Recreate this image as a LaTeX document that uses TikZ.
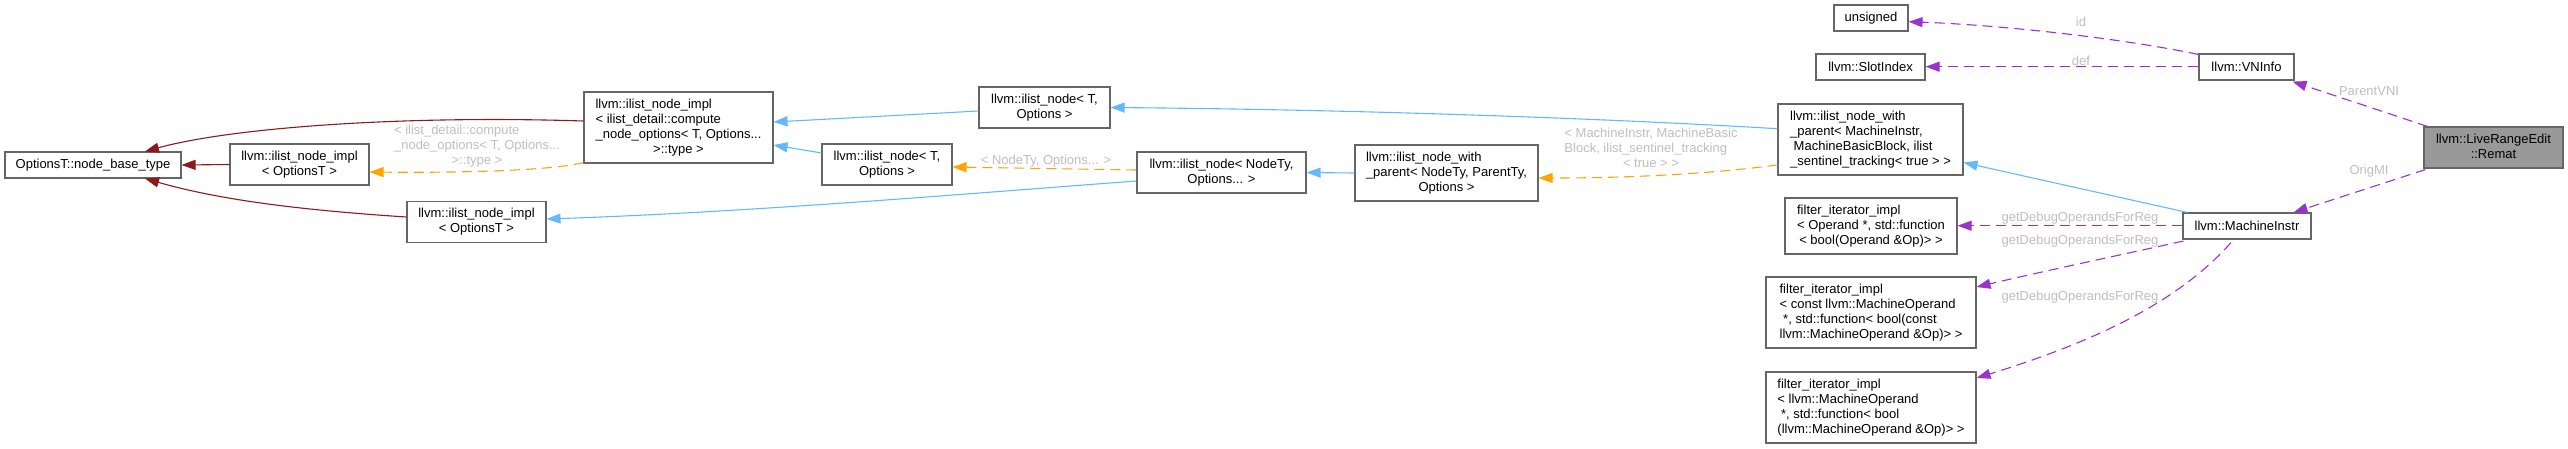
\documentclass[tikz,border=0pt]{standalone}
\usepackage{fontspec}
\setmainfont{Liberation Sans}
\usetikzlibrary{arrows.meta,positioning}
\definecolor{inhblue}{HTML}{63B8FF}
\definecolor{privred}{HTML}{8B1A1A}
\definecolor{tmplorange}{HTML}{FFA500}
\definecolor{usepurple}{HTML}{9A32CD}
\definecolor{lblgrey}{HTML}{BEBEBE}
\definecolor{boxgrey}{HTML}{666666}
\definecolor{focusgrey}{HTML}{999999}
\newcommand{\gvlines}[2]{\begin{tabular}{@{}l@{}}#1\\\multicolumn{1}{@{}c@{}}{#2}\end{tabular}}
\tikzset{
  cls/.style={draw=boxgrey, line width=1.1pt, fill=white, inner sep=0pt, font=\fontsize{13}{15}\selectfont},
  focus/.style={cls, fill=focusgrey},
  inherit/.style={-{Triangle[length=14pt,width=10pt]}, inhblue, line width=1.1pt},
  privinh/.style={inherit, privred},
  tmpl/.style={inherit, tmplorange, dash pattern=on 10pt off 6pt},
  usage/.style={inherit, usepurple, dash pattern=on 10pt off 6pt},
  elabel/.style={text=lblgrey, inner sep=0pt, font=\fontsize{13}{15}\selectfont}
}

\begin{document}
\begin{tikzpicture}[x=1pt, y=-1pt]
  \useasboundingbox (0,0) rectangle (2568,448);
  % classes
  \node[cls, minimum width=176pt, minimum height=26pt] (nbase) at (93,165) {OptionsT::node\_base\_type};
  \node[cls, minimum width=139pt, minimum height=41pt] (implA) at (299.5,164.5) {\gvlines{llvm::ilist\_node\_impl}{< OptionsT >}};
  \node[cls, minimum width=139pt, minimum height=41pt] (implB) at (476.5,222) {\gvlines{llvm::ilist\_node\_impl}{< OptionsT >}};
  \node[cls, minimum width=189pt, minimum height=71pt] (implC) at (678.5,127.5) {\gvlines{llvm::ilist\_node\_impl\\< ilist\_detail::compute\\\_node\_options< T, Options...}{>::type >}};
  \node[cls, minimum width=131pt, minimum height=41pt] (nodeA) at (1044.5,107.5) {\gvlines{llvm::ilist\_node< T,}{Options >}};
  \node[cls, minimum width=130pt, minimum height=41pt] (nodeB) at (887,164.5) {\gvlines{llvm::ilist\_node< T,}{Options >}};
  \node[cls, minimum width=169pt, minimum height=41pt] (nodeC) at (1221.5,172.5) {\gvlines{llvm::ilist\_node< NodeTy,}{Options... >}};
  \node[cls, minimum width=183pt, minimum height=56pt] (withA) at (1446.5,173) {\gvlines{llvm::ilist\_node\_with\\\_parent< NodeTy, ParentTy,}{Options >}};
  \node[cls, minimum width=185pt, minimum height=71pt] (withB) at (1870.5,139.5) {\gvlines{llvm::ilist\_node\_with\\\_parent< MachineInstr,\\\ MachineBasicBlock, ilist}{\_sentinel\_tracking< true > >}};
  \node[cls, minimum width=74pt, minimum height=26pt] (unsig) at (1871,18) {unsigned};
  \node[cls, minimum width=109pt, minimum height=26pt] (slotidx) at (1870.5,67) {llvm::SlotIndex};
  \node[cls, minimum width=172pt, minimum height=56pt] (filtA) at (1871,226) {\gvlines{filter\_iterator\_impl\\< Operand *, std::function}{< bool(Operand \&Op)> >}};
  \node[cls, minimum width=210pt, minimum height=71pt] (filtB) at (1871,312.5) {\gvlines{filter\_iterator\_impl\\< const llvm::MachineOperand\\\ *, std::function< bool(const}{llvm::MachineOperand \&Op)> >}};
  \node[cls, minimum width=210pt, minimum height=71pt] (filtC) at (1871,407.5) {\gvlines{filter\_iterator\_impl\\< llvm::MachineOperand\\\ *, std::function< bool}{(llvm::MachineOperand \&Op)> >}};
  \node[cls, minimum width=95pt, minimum height=26pt] (vninfo) at (2246.5,67) {llvm::VNInfo};
  \node[focus, minimum width=139pt, minimum height=41pt] (remat) at (2493.5,147.5) {\gvlines{llvm::LiveRangeEdit}{::Remat}};
  \node[cls, minimum width=128pt, minimum height=26pt] (minstr) at (2247,226) {llvm::MachineInstr};
  % edge labels
  \node[elabel] (lblcompute) at (477,146) {\gvlines{< ilist\_detail::compute\\\_node\_options< T, Options...}{>::type >}};
  \node[elabel] (lblnodety) at (1046,161) {< NodeTy, Options... >};
  \node[elabel] (lblmachine) at (1651,149.7) {\gvlines{< MachineInstr, MachineBasic\\Block, ilist\_sentinel\_tracking}{< true > >}};
  \node[elabel] (lblid) at (2081,21.7) {id};
  \node[elabel] (lbldef) at (2081,61) {def};
  \node[elabel] (lblparent) at (2369,90.7) {ParentVNI};
  \node[elabel] (lblorig) at (2369,170.7) {OrigMI};
  \node[elabel] (lbldbgA) at (2080,218) {getDebugOperandsForReg};
  \node[elabel] (lbldbgB) at (2080,240.7) {getDebugOperandsForReg};
  \node[elabel] (lbldbgC) at (2080,297.3) {getDebugOperandsForReg};
  % inheritance
  \draw[privinh] ([yshift=6.5pt]implC.west) .. controls (400,115) and (230,128) .. ([xshift=52pt]nbase.north);
  \draw[privinh] (implA.west) -- (nbase.east);
  \draw[privinh] ([yshift=5pt]implB.west) .. controls (300,210) and (220,200) .. ([xshift=52pt]nbase.south);
  \draw[tmpl] ([yshift=1pt]implC.south west) .. controls (555,170) and (470,173) .. ([yshift=-7.5pt]implA.east);
  \draw[inherit] ([yshift=-3.5pt]nodeA.west) -- ([yshift=5.5pt]implC.east);
  \draw[inherit] ([yshift=11.5pt]nodeB.west) -- ([yshift=-17.5pt]implC.east);
  \draw[tmpl] ([yshift=2.5pt]nodeC.west) -- ([yshift=-2.5pt]nodeB.east);
  \draw[inherit] ([yshift=-8.5pt]nodeC.west) .. controls (950,195) and (750,212) .. ([yshift=3pt]implB.east);
  \draw[inherit] (withA.west) -- (nodeC.east);
  \draw[tmpl] ([yshift=-25.5pt]withB.west) .. controls (1700,175) and (1620,178) .. ([yshift=-5pt]withA.east);
  \draw[inherit] ([yshift=10.8pt]withB.west) .. controls (1650,121) and (1400,110) .. (nodeA.east);
  \draw[inherit] ([xshift=5pt]minstr.north west) -- ([yshift=13pt]withB.south east);
  % members
  \draw[usage] ([yshift=-1pt]vninfo.north west) .. controls (2120,38) and (2000,25) .. ([yshift=-3.7pt]unsig.east);
  \draw[usage] ([yshift=0.3pt]vninfo.west) -- ([yshift=0.3pt]slotidx.east);
  \draw[usage] ([xshift=4pt]remat.north west) -- ([xshift=-2pt,yshift=-1pt]vninfo.south east);
  \draw[usage] ([xshift=2pt,yshift=-1pt]remat.south west) -- ([xshift=-18pt]minstr.north east);
  \draw[usage] ([yshift=0.3pt]minstr.west) -- ([yshift=0.3pt]filtA.east);
  \draw[usage] ([xshift=1pt,yshift=-1.5pt]minstr.south west) .. controls (2120,255) and (2040,272) .. ([yshift=25.5pt]filtB.east);
  \draw[usage] ([xshift=-16pt,yshift=-3pt]minstr.south) .. controls (2180,300) and (2100,340) .. ([yshift=29.5pt]filtC.east);
\end{tikzpicture}
\end{document}
